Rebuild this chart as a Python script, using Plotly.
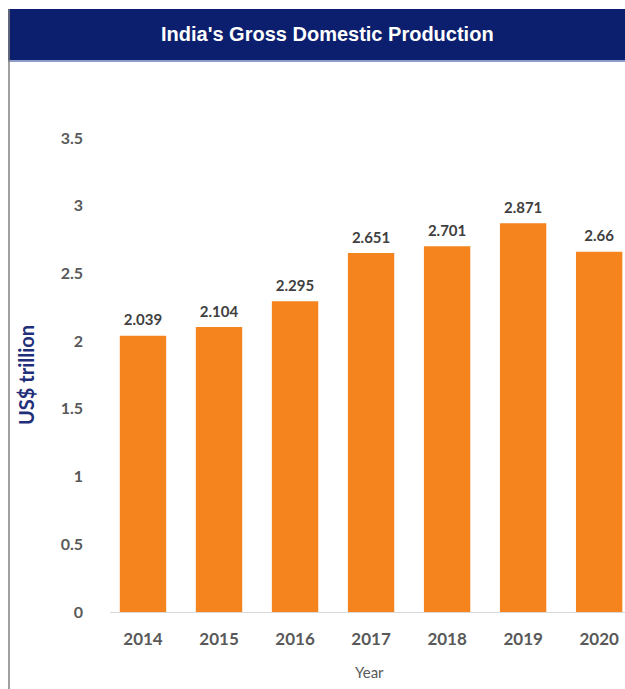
import plotly.graph_objects as go

years = ["2014", "2015", "2016", "2017", "2018", "2019", "2020"]
gdp = [2.039, 2.104, 2.295, 2.651, 2.701, 2.871, 2.66]
labels = ["2.039", "2.104", "2.295", "2.651", "2.701", "2.871", "2.66"]
yticks = [0, 0.5, 1, 1.5, 2, 2.5, 3, 3.5]
ytick_text = ["0", "0.5", "1", "1.5", "2", "2.5", "3", "3.5"]

W, H = 625, 689
FONT = "Lato"

fig = go.Figure()
fig.add_trace(go.Bar(
    x=years, y=gdp,
    marker=dict(color="#F5841F", line=dict(width=0)),
    hoverinfo="skip",
))
fig.add_trace(go.Scatter(
    x=years, y=gdp, text=labels, mode="markers+text", textposition="top center",
    marker=dict(size=9, opacity=0), cliponaxis=False, hoverinfo="skip",
    textfont=dict(family=FONT, size=15, color="#404040", weight="bold"),
))

fig.update_layout(
    width=W, height=H, margin=dict(l=0, r=0, t=0, b=0, autoexpand=False),
    paper_bgcolor="white", plot_bgcolor="white",
    bargap=0.39, showlegend=False,
    xaxis=dict(domain=[110 / W, 1], range=[-0.434, 6.34], type="category",
               showline=True, linecolor="#d9d9d9", linewidth=1, automargin=False,
               showgrid=False, ticks="", ticklabelstandoff=12,
               tickfont=dict(family=FONT, size=17, color="#595959", weight="bold")),
    yaxis=dict(domain=[(H - 612) / H, (H - 138) / H], range=[0, 3.5], automargin=False,
               tickvals=yticks, ticktext=ytick_text, showgrid=False,
               zeroline=False, showline=False, ticks="", ticklabelstandoff=26,
               tickfont=dict(family=FONT, size=16, color="#595959", weight="bold")),
    shapes=[
        dict(type="rect", xref="paper", yref="paper", x0=8 / W, x1=1,
             y0=(H - 60) / H, y1=(H - 9) / H, fillcolor="#0B1F6E", line=dict(width=0), layer="below"),
        dict(type="rect", xref="paper", yref="paper", x0=8 / W, x1=1,
             y0=(H - 62) / H, y1=(H - 60) / H, fillcolor="#8E9CC8", line=dict(width=0), layer="below"),
        dict(type="line", xref="paper", yref="paper", x0=9 / W, x1=9 / W,
             y0=0, y1=(H - 9) / H, line=dict(color="#7f7f7f", width=1.5)),
    ],
    annotations=[
        dict(text="India's Gross Domestic Production", xref="paper", yref="paper",
             x=327 / W, y=(H - 34) / H, showarrow=False, xanchor="center", yanchor="middle",
             font=dict(family="Liberation Sans", size=20, color="white", weight="bold")),
        dict(text="US$ trillion", xref="paper", yref="paper", textangle=-90,
             x=26 / W, y=(H - 375) / H, showarrow=False, xanchor="center", yanchor="middle",
             font=dict(family=FONT, size=20, color="#1F2F7A", weight="bold")),
        dict(text="Year", xref="paper", yref="paper",
             x=369 / W, y=(H - 672) / H, showarrow=False, xanchor="center", yanchor="middle",
             font=dict(family=FONT, size=15, color="#595959")),
    ],
)

fig.write_html("out.html", config={"displayModeBar": False, "staticPlot": True},
               post_script="document.body.style.margin='0';document.documentElement.style.overflow='hidden';")
